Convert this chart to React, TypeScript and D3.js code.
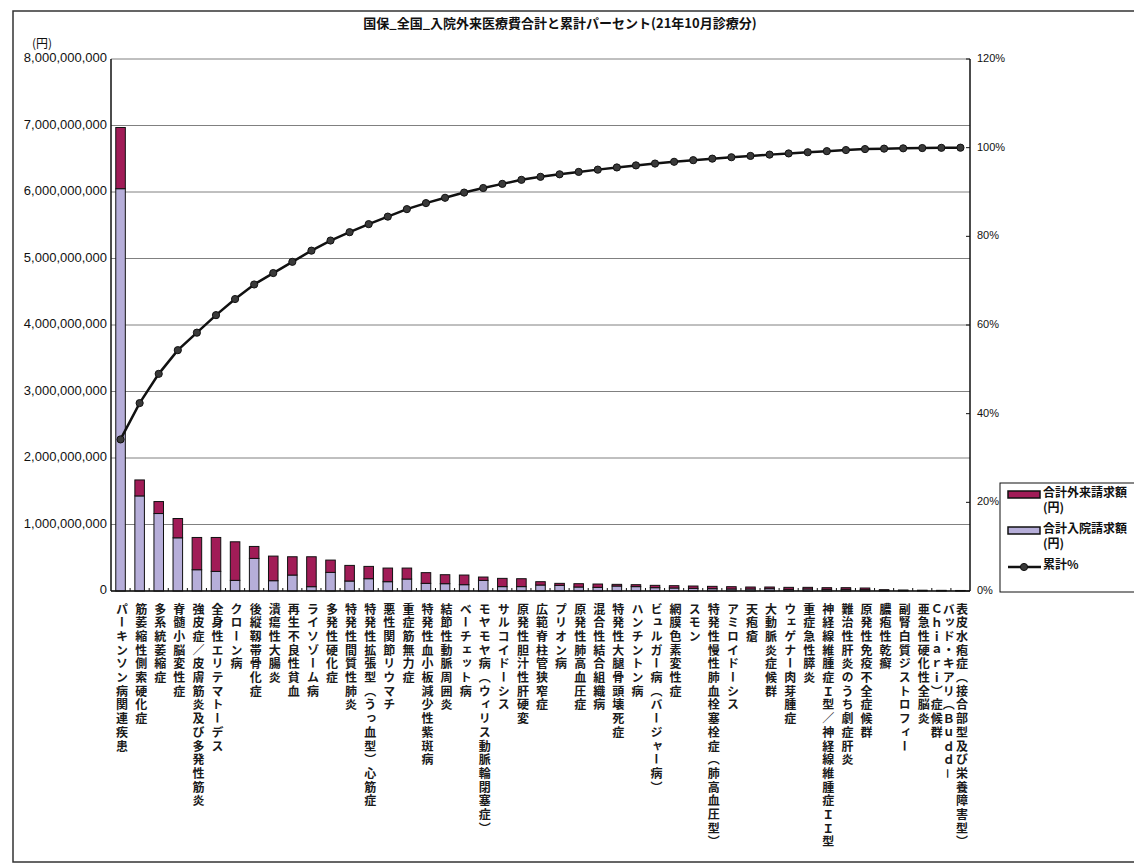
import React from "react";
import * as d3 from "d3";

const title = "国保_全国_入院外来医療費合計と累計パーセント(21年10月診療分)";

const categories = [
  "パーキンソン病関連疾患",
  "筋萎縮性側索硬化症",
  "多系統萎縮症",
  "脊髄小脳変性症",
  "強皮症／皮膚筋炎及び多発性筋炎",
  "全身性エリテマトーデス",
  "クローン病",
  "後縦靱帯骨化症",
  "潰瘍性大腸炎",
  "再生不良性貧血",
  "ライソゾーム病",
  "多発性硬化症",
  "特発性間質性肺炎",
  "特発性拡張型（うっ血型）心筋症",
  "悪性関節リウマチ",
  "重症筋無力症",
  "特発性血小板減少性紫斑病",
  "結節性動脈周囲炎",
  "ベーチェット病",
  "モヤモヤ病（ウィリス動脈輪閉塞症）",
  "サルコイドーシス",
  "原発性胆汁性肝硬変",
  "広範脊柱管狭窄症",
  "プリオン病",
  "原発性肺高血圧症",
  "混合性結合組織病",
  "特発性大腿骨頭壊死症",
  "ハンチントン病",
  "ビュルガー病（バージャー病）",
  "網膜色素変性症",
  "スモン",
  "特発性慢性肺血栓塞栓症（肺高血圧型）",
  "アミロイドーシス",
  "天疱瘡",
  "大動脈炎症候群",
  "ウェゲナー肉芽腫症",
  "重症急性膵炎",
  "神経線維腫症Ｉ型／神経線維腫症ＩＩ型",
  "難治性肝炎のうち劇症肝炎",
  "原発性免疫不全症候群",
  "膿疱性乾癬",
  "副腎白質ジストロフィー",
  "亜急性硬化性全脳炎",
  "バッド・キアリ（Ｂｕｄｄ－Ｃｈｉａｒｉ）症候群",
  "表皮水疱症（接合部型及び栄養障害型）",
];

// 合計入院請求額 (円)
const inpatient = [
  6050000000, 1430000000, 1165000000, 800000000, 320000000, 295000000, 160000000, 490000000,
  155000000, 240000000, 65000000, 280000000, 150000000, 185000000, 140000000, 180000000,
  115000000, 110000000, 95000000, 160000000, 66000000, 66000000, 90000000, 85000000,
  60000000, 55000000, 75000000, 66000000, 50000000, 45000000, 40000000, 35000000,
  30000000, 30000000, 35000000, 25000000, 30000000, 25000000, 25000000, 20000000,
  8000000, 7000000, 6000000, 5000000, 4000000,
];

// 合計外来請求額 (円)
const outpatient = [
  920000000, 240000000, 180000000, 290000000, 485000000, 510000000, 580000000, 180000000,
  370000000, 275000000, 450000000, 185000000, 235000000, 185000000, 205000000, 165000000,
  161000000, 135000000, 145000000, 50000000, 124000000, 119000000, 50000000, 30000000,
  50000000, 50000000, 25000000, 29000000, 35000000, 35000000, 35000000, 35000000,
  35000000, 30000000, 25000000, 30000000, 25000000, 25000000, 25000000, 25000000,
  12000000, 8000000, 6000000, 5000000, 4000000,
];

const leftTicks = [0, 1e9, 2e9, 3e9, 4e9, 5e9, 6e9, 7e9, 8e9];
const rightTicks = [0, 0.2, 0.4, 0.6, 0.8, 1.0, 1.2];

const legendItems = [
  { label: ["合計外来請求額", "(円)"], kind: "out" },
  { label: ["合計入院請求額", "(円)"], kind: "in" },
  { label: ["累計%"], kind: "line" },
];

const COL_OUT = "#a11c57";
const COL_IN = "#b6aed9";
const LATIN = "'Liberation Sans', Arial, sans-serif";
const CJK = "'Noto Sans CJK JP', 'Noto Sans', sans-serif";

export default function App() {
  const W = 1134;
  const H = 865;
  const left = 111;
  const right = 970;
  const top = 59;
  const bottom = 591;

  const x = d3.scaleBand<string>().domain(categories).range([left, right]).paddingInner(0.5).paddingOuter(0.25);
  const y = d3.scaleLinear().domain([0, 8e9]).range([bottom, top]);
  const yR = d3.scaleLinear().domain([0, 1.2]).range([bottom, top]);

  const totals = categories.map((_, i) => inpatient[i] + outpatient[i]);
  const grand = d3.sum(totals);
  const cum: number[] = Array.from(d3.cumsum(totals), (v) => v / grand);

  const cx = (c: string) => (x(c) as number) + x.bandwidth() / 2;
  const step = x.step();

  const line = d3
    .line<number>()
    .x((_, i) => cx(categories[i]))
    .y((d) => yR(d));

  const fmt = d3.format(",");

  const splitLabel = (s: string): string[] => {
    if (s.length > 18) {
      const k = s.indexOf("－");
      if (k > 0) return [s.slice(0, k + 1), s.slice(k + 1)];
    }
    return [s];
  };

  return (
    <svg
      width={W}
      height={H}
      style={{ position: "absolute", left: 0, top: 0, background: "#fff" }}
    >
      {/* outer frame */}
      <rect x={13} y={11} width={1140} height={851} fill="none" stroke="#333" strokeWidth={1.5} />

      {/* title */}
      <text
        x={560}
        y={24}
        textAnchor="middle"
        dominantBaseline="middle"
        fontFamily={CJK}
        fontWeight="bold"
        fontSize={13}
        fill="#111"
      >
        {title}
      </text>

      {/* unit */}
      <text x={32} y={45} fontFamily={CJK} fontSize={12} fill="#111" dominantBaseline="middle">
        (円)
      </text>

      {/* gridlines */}
      {leftTicks.map((t) => (
        <line key={"g" + t} x1={left} x2={right} y1={y(t)} y2={y(t)} stroke="#808080" strokeWidth={1} />
      ))}

      {/* left tick labels */}
      {leftTicks.map((t) => (
        <text
          key={"lt" + t}
          x={107}
          y={y(t)}
          textAnchor="end"
          dominantBaseline="middle"
          fontFamily={LATIN}
          fontSize={13}
          fill="#111"
        >
          {fmt(t)}
        </text>
      ))}

      {/* right tick labels */}
      {rightTicks.map((t) => (
        <text
          key={"rt" + t}
          x={977}
          y={yR(t)}
          dominantBaseline="middle"
          fontFamily={LATIN}
          fontSize={11}
          fill="#111"
        >
          {Math.round(t * 100) + "%"}
        </text>
      ))}
      {rightTicks.map((t) => (
        <line key={"rtk" + t} x1={right - 4} x2={right} y1={yR(t)} y2={yR(t)} stroke="#111" />
      ))}

      {/* bars */}
      {categories.map((c, i) => {
        const x0 = x(c) as number;
        const w = x.bandwidth();
        return (
          <g key={"b" + i}>
            <rect
              x={x0}
              y={y(inpatient[i])}
              width={w}
              height={y(0) - y(inpatient[i])}
              fill={COL_IN}
              stroke="#111"
              strokeWidth={1}
            />
            <rect
              x={x0}
              y={y(inpatient[i] + outpatient[i])}
              width={w}
              height={y(inpatient[i]) - y(inpatient[i] + outpatient[i])}
              fill={COL_OUT}
              stroke="#111"
              strokeWidth={1}
            />
          </g>
        );
      })}

      {/* axes */}
      <line x1={left} x2={left} y1={top} y2={bottom} stroke="#111" strokeWidth={1.5} />
      <line x1={right} x2={right} y1={top} y2={bottom} stroke="#111" strokeWidth={1.5} />
      <line x1={left} x2={right} y1={bottom} y2={bottom} stroke="#111" strokeWidth={1.5} />
      {categories.slice(1).map((c, i) => {
        const bx = cx(c) - step / 2;
        return <line key={"xt" + i} x1={bx} x2={bx} y1={bottom} y2={bottom - 3} stroke="#111" />;
      })}

      {/* cumulative line */}
      <path d={line(cum) || ""} fill="none" stroke="#111" strokeWidth={2.5} />
      {cum.map((v, i) => (
        <circle key={"m" + i} cx={cx(categories[i])} cy={yR(v)} r={3.6} fill="#3a3a3a" stroke="#111" strokeWidth={1} />
      ))}

      {/* category labels (vertical) */}
      {categories.map((c, i) => {
        const parts = splitLabel(c);
        const n = parts.length;
        return parts.map((p, j) => (
          <text
            key={"xl" + i + "_" + j}
            x={cx(c) + 1.5 + (n > 1 ? (n - 1) * 6 - j * 12 : 0)}
            y={603}
            fontFamily={CJK}
            fontSize={12}
            fontWeight="bold"
            fill="#1a1a1a"
            style={{ writingMode: "vertical-rl", letterSpacing: "1.7px" } as React.CSSProperties}
          >
            {p}
          </text>
        ));
      })}

      {/* legend */}
      <rect x={1000} y={483} width={160} height={109} fill="#fff" stroke="#111" strokeWidth={1} />
      {legendItems.map((it, i) => {
        const rowY = [495, 531, 567][i];
        return (
          <g key={"lg" + i}>
            {it.kind === "line" ? (
              <g>
                <line x1={1008} x2={1041} y1={rowY} y2={rowY} stroke="#111" strokeWidth={2.5} />
                <circle cx={1024} cy={rowY} r={3.6} fill="#3a3a3a" stroke="#111" />
              </g>
            ) : (
              <rect
                x={1008}
                y={rowY - 4}
                width={32}
                height={7}
                fill={it.kind === "out" ? COL_OUT : COL_IN}
                stroke="#111"
                strokeWidth={1.5}
              />
            )}
            {it.label.map((l, j) => (
              <text
                key={j}
                x={1043}
                y={rowY - 1 + j * 15}
                dominantBaseline="middle"
                fontFamily={CJK}
                fontSize={12}
                fontWeight="bold"
                fill="#111"
              >
                {l}
              </text>
            ))}
          </g>
        );
      })}
    </svg>
  );
}
